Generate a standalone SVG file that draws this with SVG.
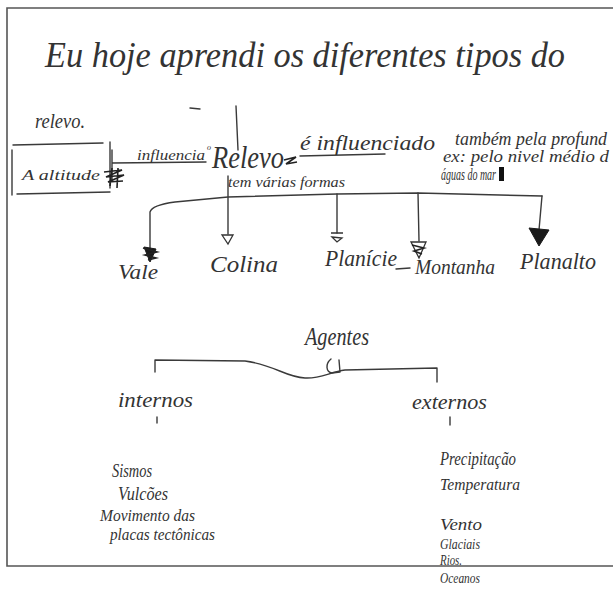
<svg xmlns="http://www.w3.org/2000/svg" width="613" height="592" viewBox="0 0 613 592">
<style>
.t{font-family:"Liberation Serif","DejaVu Serif",serif;font-style:italic;font-weight:normal;fill:#333;}
.ln{fill:none;stroke:#3a3a3a;stroke-width:1.4;stroke-linecap:round;stroke-linejoin:round;}
.fr{fill:none;stroke:#555;stroke-width:1.6;}
.sc{fill:none;stroke:#222;stroke-width:1.6;}
.ah{fill:none;stroke:#333;stroke-width:1.3;}
.ahf{fill:#1a1a1a;stroke:#1a1a1a;stroke-width:1;}
</style>
<rect width="613" height="592" fill="#fff"/>
<path class="fr" d="M613,8 H7 V566 H613"/>

<g id="title">
<text class="t" x="45" y="67" font-size="35" textLength="520" lengthAdjust="spacingAndGlyphs">Eu hoje aprendi os diferentes tipos do</text>
<text class="t" x="35" y="128" font-size="20" textLength="50" lengthAdjust="spacingAndGlyphs">relevo.</text>
</g>

<g id="connectors">
<path class="ln" d="M13,145 L103,143 M110,142 L110,188 M17,194 L110,192 M12,150 L12,195"/>
<path class="ln" d="M112,150 L112,180 M112,163 L206,162"/>
<path class="ln" d="M236,106 L238,150 M190,108 L200,109"/>
<path class="ln" d="M300,156 L385,154"/>
<path class="ln" d="M228,176 L228,234"/>
<path class="ln" d="M150,248 L150,212 Q152,205 175,202 L228,197 L337,194 L418,193 L542,196"/>
<path class="ln" d="M337,194 L337,233 M418,193 L419,241 M542,196 L539,230"/>
<path class="ln" d="M155,372 L155,360 L245,361 C275,365 285,377 305,378 C320,379 330,372 345,370 L437,368 L437,382"/>
<path class="ln" d="M331,359 C325,364 326,372 332,373 L340,372 L339,360"/>
<path class="ln" d="M157,417 L157,423 M450,417 L450,425"/>
<polygon class="ahf" points="144,247 156,249 150,262"/>
<path class="sc" d="M143,248 L157,252 L145,255 L156,258 L148,260"/>
<polygon class="ah" points="222,235 233,235 228,244"/>
<path class="ah" d="M331,233 L343,233 M332,237 L342,238 L337,242 Z"/>
<polygon class="ah" points="411,242 426,242 419,258"/>
<path class="sc" d="M412,245 L424,248 L414,251 L422,254"/>
<polygon class="ahf" points="529,228 549,230 539,246"/>
</g>

<g id="altitude">
<text class="t" x="22" y="180" font-size="15" textLength="78" lengthAdjust="spacingAndGlyphs">A altitude</text>
<path class="sc" d="M104,172 L122,170 L106,177 L124,175 L108,182 L123,181 M112,168 L110,186 M118,168 L117,188"/>
</g>

<g id="influencia">
<text class="t" x="137" y="160" font-size="14" textLength="68" lengthAdjust="spacingAndGlyphs">influencia</text>
<text class="t" x="207" y="150" font-size="8">o</text>
</g>

<g id="relevo">
<text class="t" x="212" y="168" font-size="32" textLength="72" lengthAdjust="spacingAndGlyphs">Relevo</text>
<path class="sc" d="M284,160 L296,157 L286,164 L297,162"/>
<text class="t" x="228" y="187" font-size="14" textLength="117" lengthAdjust="spacingAndGlyphs">tem várias formas</text>
</g>

<g id="influenciado">
<text class="t" x="300" y="150" font-size="21" textLength="135" lengthAdjust="spacingAndGlyphs">é influenciado</text>
<text class="t" x="455" y="145" font-size="18" textLength="152" lengthAdjust="spacingAndGlyphs">também pela profund</text>
<text class="t" x="443" y="162" font-size="16" textLength="166" lengthAdjust="spacingAndGlyphs">ex: pelo nivel médio d</text>
<text class="t" x="441" y="180" font-size="16" textLength="55" lengthAdjust="spacingAndGlyphs">águas do mar</text>
<rect x="499" y="167" width="5" height="14" fill="#111"/>
</g>

<g id="vale"><text class="t" x="118" y="279" font-size="21" textLength="40" lengthAdjust="spacingAndGlyphs">Vale</text></g>
<g id="colina"><text class="t" x="210" y="272" font-size="24" textLength="68" lengthAdjust="spacingAndGlyphs">Colina</text></g>
<g id="planicie"><text class="t" x="325" y="266" font-size="24" textLength="72" lengthAdjust="spacingAndGlyphs">Planície</text>
<path class="ln" d="M396,269 L410,268"/></g>
<g id="montanha"><text class="t" x="415" y="274" font-size="20" textLength="80" lengthAdjust="spacingAndGlyphs">Montanha</text></g>
<g id="planalto"><text class="t" x="520" y="269" font-size="24" textLength="76" lengthAdjust="spacingAndGlyphs">Planalto</text></g>

<g id="agentes"><text class="t" x="305" y="345" font-size="26" textLength="64" lengthAdjust="spacingAndGlyphs">Agentes</text></g>
<g id="internos"><text class="t" x="118" y="407" font-size="20" textLength="75" lengthAdjust="spacingAndGlyphs">internos</text></g>
<g id="externos"><text class="t" x="412" y="409" font-size="20" textLength="75" lengthAdjust="spacingAndGlyphs">externos</text></g>

<g id="internos-lista">
<text class="t" x="112" y="477" font-size="19" textLength="40" lengthAdjust="spacingAndGlyphs">Sismos</text>
<text class="t" x="118" y="500" font-size="19" textLength="50" lengthAdjust="spacingAndGlyphs">Vulcões</text>
<text class="t" x="100" y="521" font-size="17" textLength="95" lengthAdjust="spacingAndGlyphs">Movimento das</text>
<text class="t" x="110" y="540" font-size="17" textLength="105" lengthAdjust="spacingAndGlyphs">placas tectônicas</text>
</g>

<g id="externos-lista">
<text class="t" x="440" y="465" font-size="19" textLength="76" lengthAdjust="spacingAndGlyphs">Precipitação</text>
<text class="t" x="440" y="490" font-size="17" textLength="80" lengthAdjust="spacingAndGlyphs">Temperatura</text>
<text class="t" x="440" y="530" font-size="16" textLength="42" lengthAdjust="spacingAndGlyphs">Vento</text>
<text class="t" x="440" y="549" font-size="15" textLength="40" lengthAdjust="spacingAndGlyphs">Glaciais</text>
<text class="t" x="440" y="565" font-size="15" textLength="22" lengthAdjust="spacingAndGlyphs">Rios.</text>
<text class="t" x="440" y="583" font-size="15" textLength="40" lengthAdjust="spacingAndGlyphs">Oceanos</text>
</g>
</svg>
